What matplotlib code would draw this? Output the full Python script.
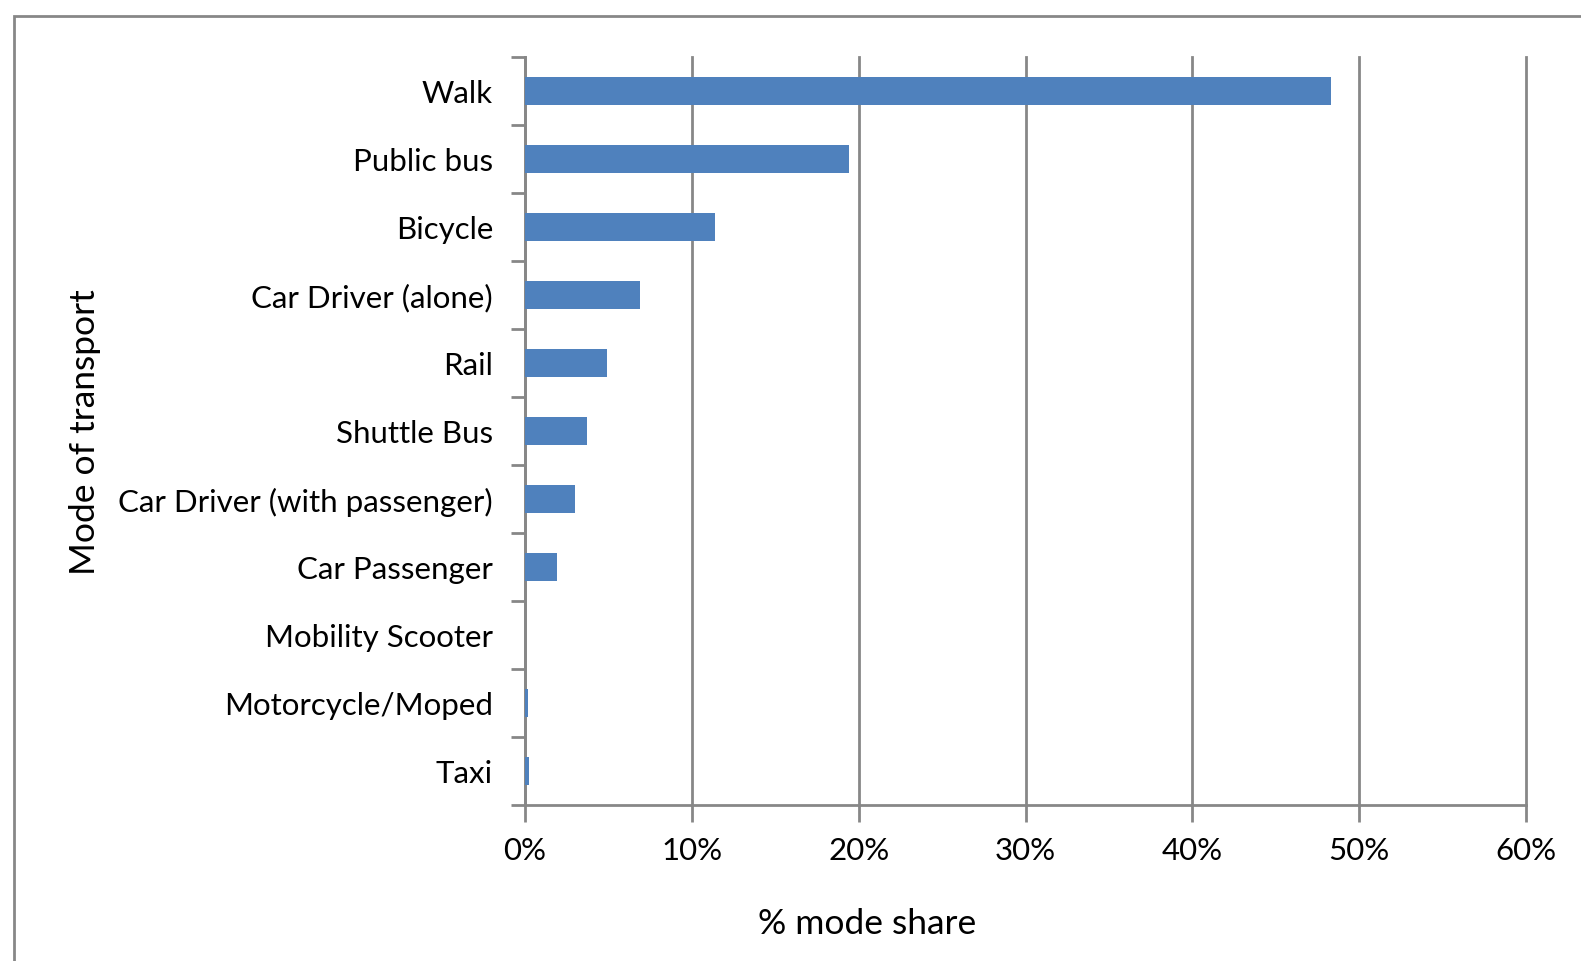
import numpy as np
import matplotlib.pyplot as plt
from matplotlib.patches import Rectangle
from matplotlib.ticker import PercentFormatter

plt.rcParams['font.family'] = ['Lato', 'DejaVu Sans']

modes = ['Walk', 'Public bus', 'Bicycle', 'Car Driver (alone)', 'Rail',
         'Shuttle Bus', 'Car Driver (with passenger)', 'Car Passenger',
         'Mobility Scooter', 'Motorcycle/Moped', 'Taxi']
share = [48.3, 19.4, 11.4, 6.9, 4.9, 3.7, 3.0, 1.9, 0.0, 0.2, 0.25]
xticks = [0, 10, 20, 30, 40, 50, 60]

grey = '#878787'
blue = '#4F81BD'

W, H = 1581, 962
fig = plt.figure(figsize=(W / 100, H / 100), dpi=100)
ax = fig.add_axes([525 / W, 1 - 806 / H, (1526 - 525) / W, (806 - 58) / H])

# outer chart frame (only left and top edges visible)
fig.add_artist(Rectangle((14 / W, -0.5), 2, 1.5 - 17 / H, transform=fig.transFigure,
                         fill=False, edgecolor=grey, linewidth=2))

y = np.arange(len(modes))
ax.barh(y, share, height=0.42, color=blue, zorder=3)

ax.set_xlim(0, 60)
ax.set_ylim(len(modes) - 0.5, -0.5)
ax.set_xticks(xticks)
ax.xaxis.set_major_formatter(PercentFormatter(decimals=0))
ax.grid(axis='x', color=grey, linewidth=2, zorder=0, clip_on=False)

ax.set_yticks(np.arange(len(modes) + 1) - 0.5)
ax.set_yticklabels([])
ax.set_yticks(y, minor=True)
ax.set_yticklabels(modes, minor=True)
ax.tick_params(axis='y', which='minor', length=0, pad=23, labelsize=22.5)
ax.tick_params(axis='y', which='major', length=10, width=2, color=grey)
ax.tick_params(axis='x', length=12, width=2, color=grey, labelsize=22.5, pad=10)

for side in ['top', 'right']:
    ax.spines[side].set_visible(False)
for side in ['left', 'bottom']:
    ax.spines[side].set_color(grey)
    ax.spines[side].set_linewidth(2)

ax.set_xlabel('% mode share', fontsize=25.5)
ax.xaxis.set_label_coords(0.342, -0.137)
ax.set_ylabel('Mode of transport', fontsize=25.5)
ax.yaxis.set_label_coords(-0.424, 0.5)

fig.savefig('out.png', dpi=100)
